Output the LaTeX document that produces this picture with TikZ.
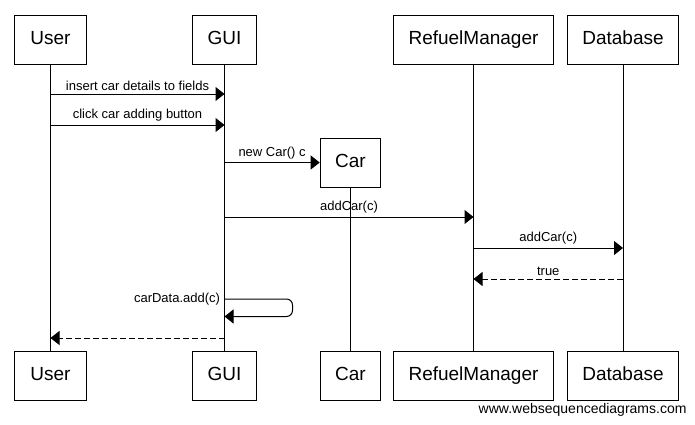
\documentclass[tikz,border=0pt]{standalone}
\usepackage{fontspec}
\setmainfont{Liberation Sans}
\usetikzlibrary{arrows.meta}

\begin{document}
\begin{tikzpicture}[x=1pt,y=-1pt,line width=1pt,
  obj/.style={draw,fill=white,minimum height=49pt,inner xsep=15pt,text height=14pt,text depth=4pt,font=\fontsize{19}{21}\selectfont},
  msg/.style={-{Triangle[length=9pt,width=14pt]}},
  ret/.style={msg,dash pattern=on 6pt off 3pt},
  lbl/.style={font=\fontsize{13}{15}\selectfont,inner sep=3pt}]

\useasboundingbox (0,0) rectangle (695,424);

% participants, top and bottom
\node[obj,minimum width=72pt] (user) at (50.5,39.5) {User};
\node[obj] (gui) at (224.5,39.5) {GUI};
\node[obj] (rm) at (473.5,39.5) {RefuelManager};
\node[obj] (db) at (623,39.5) {Database};
\node[obj] (car) at (350.5,162.5) {Car};

\node[obj,minimum width=72pt] (user2) at (50.5,375.5) {User};
\node[obj] (gui2) at (224.5,375.5) {GUI};
\node[obj] (car2) at (350.5,375.5) {Car};
\node[obj] (rm2) at (473.5,375.5) {RefuelManager};
\node[obj] (db2) at (623,375.5) {Database};

\foreach \n in {user,gui,car,rm,db}
    \draw (\n) -- (\n2);

% message rows
\coordinate (m1) at (0,94);
\coordinate (m2) at (0,125);
\coordinate (m4) at (0,217);
\coordinate (m5) at (0,248);
\coordinate (m6) at (0,279);
\coordinate (m7) at (0,299);
\coordinate (m8) at (0,316.5);
\coordinate (m9) at (0,338);

\draw[msg] (user |- m1) -- node[lbl,above] {insert car details to fields} (gui |- m1);
\draw[msg] (user |- m2) -- node[lbl,above] {click car adding button} (gui |- m2);
\draw[msg] (gui |- car) -- node[lbl,above] {new Car() c} (car);
\draw[msg] (gui |- m4) -- node[lbl,above] {addCar(c)} (rm |- m4);
\draw[msg] (rm |- m5) -- node[lbl,above] {addCar(c)} (db |- m5);
\draw[ret] (db |- m6) -- node[lbl,above] {true} (rm |- m6);
\draw[msg,rounded corners=6pt] (gui |- m7) node[lbl,left,xshift=-1pt] {carData.add(c)}
    -- ++(68,0) |- (gui |- m8);
\draw[ret] (gui |- m9) -- (user |- m9);

\node[font=\fontsize{14}{16}\selectfont,anchor=east,inner sep=0pt] (wsd) at (687,410) {www.websequencediagrams.com};

\end{tikzpicture}
\end{document}
